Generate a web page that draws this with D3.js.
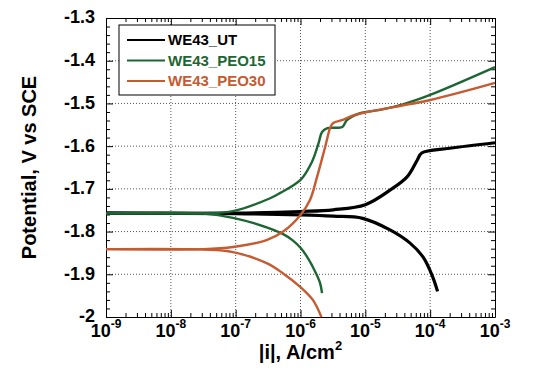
<!DOCTYPE html>
<html>
<head>
<meta charset="utf-8">
<script src="https://cdn.jsdelivr.net/npm/d3@7"></script>
<style>
  body { margin: 0; background: #fff; }
  svg { display: block; font-family: "Liberation Sans", Arial, sans-serif; font-weight: bold; }
</style>
</head>
<body>
<div id="chart"></div>
<script>
// Tafel curves, current density in A/cm2, potential in V vs SCE
var seriesNames = ['WE43_UT', 'WE43_PEO15', 'WE43_PEO30']
var seriesColors = ['#000000', '#1d6634', '#c65a30']

var utAnodic = [[1e-9,-1.757],[1e-7,-1.757],[1e-6,-1.753],[3.2e-6,-1.749],[1e-5,-1.737],[2.4e-5,-1.703],
  [4.4e-5,-1.672],[6.3e-5,-1.633],[7.4e-5,-1.616],[2.0e-4,-1.605],[1e-3,-1.592]]
var utCathodic = [[1e-9,-1.757],[1e-7,-1.758],[1e-6,-1.761],[3.2e-6,-1.764],[9.1e-6,-1.769],[2.4e-5,-1.796],
  [4.9e-5,-1.827],[7.8e-5,-1.86],[1.1e-4,-1.907],[1.3e-4,-1.94]]

var peo15Anodic = [[1e-9,-1.757],[3.2e-8,-1.757],[9.1e-8,-1.752],[3.4e-7,-1.722],[4.8e-7,-1.71],[1e-6,-1.679],
  [1.5e-6,-1.637],[1.9e-6,-1.593],[2.15e-6,-1.567],[2.6e-6,-1.558],[4.4e-6,-1.555],[5.2e-6,-1.539],
  [8.3e-6,-1.523],[1.7e-5,-1.515],[3.8e-5,-1.502],[1e-4,-1.48],[1e-3,-1.415]]
var peo15Cathodic = [[1e-9,-1.757],[3.2e-8,-1.758],[9.1e-8,-1.768],[3.0e-7,-1.79],[5.4e-7,-1.806],[7.5e-7,-1.82],
  [1e-6,-1.838],[1.3e-6,-1.862],[1.7e-6,-1.895],[2.0e-6,-1.92],[2.15e-6,-1.944]]

var peo30Anodic = [[1e-9,-1.841],[3.2e-8,-1.841],[9.1e-8,-1.836],[3.0e-7,-1.82],[5.4e-7,-1.80],[1e-6,-1.761],
  [1.4e-6,-1.726],[1.8e-6,-1.672],[2.4e-6,-1.602],[2.9e-6,-1.555],[3.2e-6,-1.546],[4.6e-6,-1.538],
  [6.9e-6,-1.527],[1e-4,-1.492],[1e-3,-1.452]]
var peo30Cathodic = [[1e-9,-1.841],[3.2e-8,-1.842],[9.1e-8,-1.848],[3.0e-7,-1.874],[5.4e-7,-1.898],[1e-6,-1.93],
  [1.55e-6,-1.96],[2.1e-6,-2.0]]

var xTicks = [1e-9, 1e-8, 1e-7, 1e-6, 1e-5, 1e-4, 1e-3]
var xTickExp = ['-9', '-8', '-7', '-6', '-5', '-4', '-3']
var yTicks = [-1.3, -1.4, -1.5, -1.6, -1.7, -1.8, -1.9, -2.0]

var width = 539, height = 374
var margin = {left: 106, top: 18, right: 44, bottom: 57}
var w = width - margin.left - margin.right,
    h = height - margin.top - margin.bottom

var svg = d3.select('#chart').append('svg')
  .attr('width', width).attr('height', height)

var x = d3.scaleLog().domain([1e-9, 1e-3]).range([0, w])
var y = d3.scaleLinear().domain([-2, -1.3]).range([h, 0])

var g = svg.append('g').attr('transform', 'translate(' + margin.left + ',' + margin.top + ')')

// dotted grid
g.selectAll('.vgrid').data(xTicks.slice(1, -1)).enter().append('line')
  .attr('x1', d => x(d)).attr('x2', d => x(d)).attr('y1', 0).attr('y2', h)
  .attr('stroke', '#555').attr('stroke-width', 1).attr('stroke-dasharray', '1,2')
g.selectAll('.hgrid').data(yTicks.slice(1, -1)).enter().append('line')
  .attr('y1', d => y(d)).attr('y2', d => y(d)).attr('x1', 0).attr('x2', w)
  .attr('stroke', '#555').attr('stroke-width', 1).attr('stroke-dasharray', '1,2')

// minor ticks
var xMinor = []
xTicks.slice(0, -1).forEach(function(t) { for (var k = 2; k < 10; k++) xMinor.push(t * k) })
var yMinor = d3.range(-2, -1.29, 0.02).filter(v => Math.abs(Math.round(v * 10) - v * 10) > 0.01)

var axes = [
  d3.axisBottom(x), d3.axisTop(x), d3.axisLeft(y), d3.axisRight(y)
]
var pos = ['translate(0,' + h + ')', 'translate(0,0)', 'translate(0,0)', 'translate(' + w + ',0)']
axes.forEach(function(ax, i) {
  var isX = i < 2
  var major = g.append('g').attr('transform', pos[i])
    .call(ax.tickValues(isX ? xTicks : yTicks).tickSizeInner(-7).tickSizeOuter(0).tickFormat(''))
  var minor = g.append('g').attr('transform', pos[i])
    .call(ax.tickValues(isX ? xMinor : yMinor).tickSizeInner(-4).tickSizeOuter(0).tickFormat(''))
  minor.select('.domain').remove()
  major.selectAll('line').attr('stroke', '#000')
  major.select('.domain').attr('stroke', '#000')
})

// tick labels
var xl = g.append('g').selectAll('text').data(xTicks).enter().append('text')
  .attr('x', d => x(d)).attr('y', h + 20)
  .attr('text-anchor', 'middle').attr('font-size', 18)
xl.append('tspan').text('10')
xl.append('tspan').attr('dy', -9).attr('font-size', 12).text((d, i) => xTickExp[i])

g.append('g').selectAll('text').data(yTicks).enter().append('text')
  .attr('x', -11).attr('y', d => y(d)).attr('dy', '0.3em')
  .attr('text-anchor', 'end').attr('font-size', 18)
  .text(d => String(+d.toFixed(1)))

// axis titles
var xt = svg.append('text').attr('x', margin.left + w / 2).attr('y', 359)
  .attr('text-anchor', 'middle').attr('font-size', 20)
xt.append('tspan').text('|i|, A/cm')
xt.append('tspan').attr('dy', -9).attr('font-size', 13).text('2')

svg.append('text').attr('transform', 'translate(36,' + (margin.top + h / 2) + ') rotate(-90)')
  .attr('text-anchor', 'middle').attr('font-size', 20)
  .text('Potential, V vs SCE')

// curves
var line = d3.line().curve(d3.curveCatmullRom.alpha(0.5)).x(d => x(d[0])).y(d => y(d[1]))
var branches = [[utAnodic, utCathodic], [peo15Anodic, peo15Cathodic], [peo30Anodic, peo30Cathodic]]
var widths = [3.2, 2.4, 2.4]
var plot = g.append('g')
branches.forEach(function(b, i) {
  b.forEach(function(d) {
    plot.append('path').datum(d).attr('d', line)
      .attr('fill', 'none').attr('stroke', seriesColors[i]).attr('stroke-width', widths[i])
      .attr('stroke-linejoin', 'round')
  })
})

// legend
var lg = g.append('g').attr('transform', 'translate(13,7)')
lg.append('rect').attr('width', 156).attr('height', 70)
  .attr('fill', '#fff').attr('stroke', '#000').attr('stroke-width', 1)
seriesNames.forEach(function(n, i) {
  var yy = 15 + i * 20.5
  lg.append('line').attr('x1', 8).attr('x2', 46).attr('y1', yy).attr('y2', yy)
    .attr('stroke', seriesColors[i]).attr('stroke-width', 2)
  lg.append('text').attr('x', 49).attr('y', yy).attr('dy', '0.35em')
    .attr('font-size', 15).attr('fill', seriesColors[i]).text(n)
})
</script>
</body>
</html>
